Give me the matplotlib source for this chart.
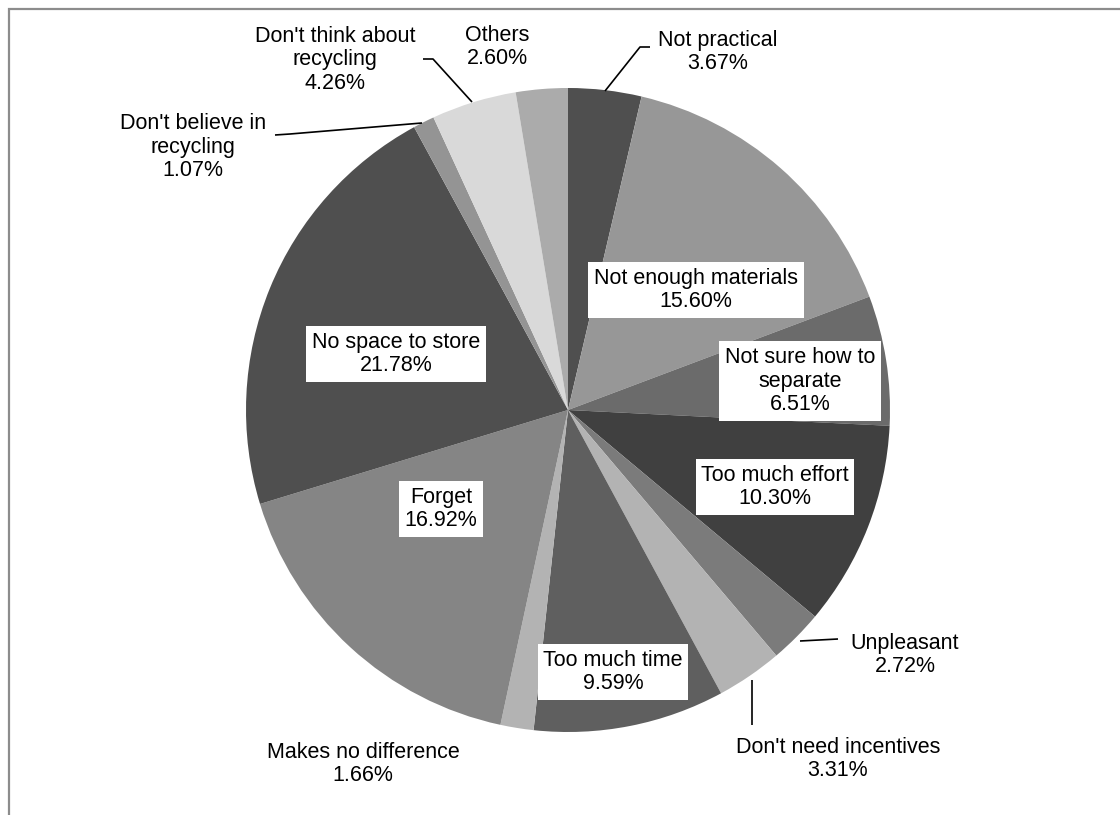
import matplotlib
matplotlib.use("Agg")
import matplotlib.pyplot as plt
from matplotlib.patches import Rectangle

categories = ["Not practical", "Not enough materials", "Not sure how to\nseparate",
              "Too much effort", "Unpleasant", "Don't need incentives", "Too much time",
              "Makes no difference", "Forget", "No space to store",
              "Don't believe in\nrecycling", "Don't think about\nrecycling", "Others"]
values = [3.67, 15.60, 6.51, 10.30, 2.72, 3.31, 9.59, 1.66, 16.92, 21.78, 1.07, 4.26, 2.60]
colors = ["#4f4f4f", "#979797", "#6b6b6b", "#404040", "#7b7b7b", "#b3b3b3", "#5f5f5f",
          "#b3b3b3", "#858585", "#4f4f4f", "#949494", "#d9d9d9", "#ababab"]

W, H = 1120, 815
plt.rcParams['font.family'] = ['Liberation Sans', 'DejaVu Sans']
fig = plt.figure(figsize=(W / 100, H / 100), dpi=100)
ax = fig.add_axes([0, 0, 1, 1])

def py(y):
    return H - y

# frame border (extends past right/bottom edges)
fig.patches.append(Rectangle((9 / W, -0.1), 1.2, (H - 9) / H + 0.1, transform=fig.transFigure,
                             fill=False, edgecolor="#8c8c8c", linewidth=1.6))

cx, cy, r = 568, 410, 322
ax.pie(values, colors=colors, startangle=90, counterclock=False,
       center=(cx, py(cy)), radius=r, wedgeprops=dict(linewidth=0), frame=False)
ax.set_xlim(0, W)
ax.set_ylim(0, H)
ax.set_aspect('equal')
ax.axis('off')

# label positions (pixel coords of text centre) and whether boxed
label_pos = [(718, 52, False), (696, 290, True), (800, 381, True), (775, 487, True),
             (905, 655, False), (838, 759, False), (613, 672, True), (363, 764, False),
             (441, 509, True), (396, 354, True), (193, 147, False), (335, 60, False),
             (497, 47, False)]

for cat, val, (x, y, boxed) in zip(categories, values, label_pos):
    txt = f"{cat}\n{val:.2f}%"
    kw = {}
    if boxed:
        kw['bbox'] = dict(facecolor='white', edgecolor='none', pad=4)
    ax.text(x, py(y), txt, ha='center', va='center', fontsize=15.5, color='black',
            linespacing=1.18, **kw)

# leader lines
leaders = [
    [(605, 91), (640, 47), (650, 47)],
    [(472, 102), (433, 59), (423, 59)],
    [(422, 123), (290, 134), (275, 135)],
    [(800, 641), (838, 639)],
    [(752, 680), (752, 725)],
]
for pts in leaders:
    ax.plot([p[0] for p in pts], [py(p[1]) for p in pts], color='black', linewidth=1.2,
            solid_capstyle='butt')

fig.savefig("out.png", dpi=100)
